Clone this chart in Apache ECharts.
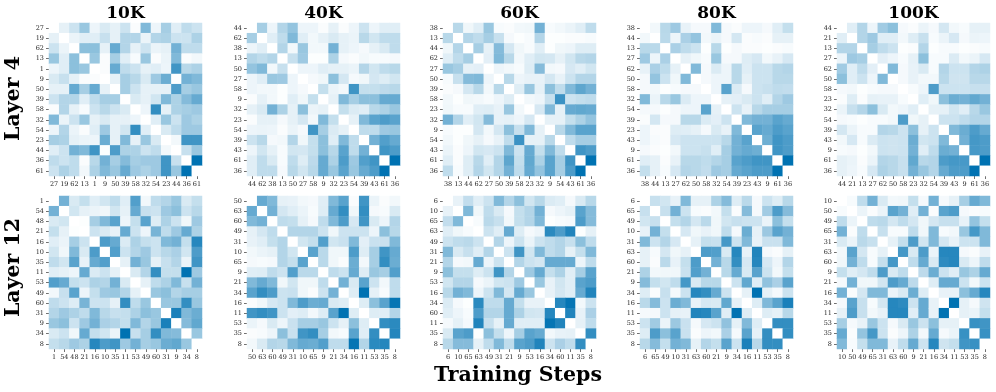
<!DOCTYPE html>
<html>
<head>
<meta charset="utf-8">
<style>
  html, body { margin: 0; padding: 0; background: #fff; }
  #chart { width: 996px; height: 392px; }
</style>
<script src="https://cdn.jsdelivr.net/npm/echarts@6/dist/echarts.min.js"></script>
</head>
<body>
<div id="chart"></div>
<script>
// steps shown above the columns, layers at the left of the rows
const steps = ['10K', '40K', '60K', '80K', '100K'];
const layers = ['Layer 4', 'Layer 12'];

// tick labels per panel
const labels_l4_10k = ['27', '19', '62', '13', '1', '9', '50', '39', '58', '32', '54', '23', '44', '36', '61'];
const labels_l4_40k = ['44', '62', '38', '13', '50', '27', '58', '9', '32', '23', '54', '39', '43', '61', '36'];
const labels_l4_60k = ['38', '13', '44', '62', '27', '50', '39', '58', '23', '32', '9', '54', '43', '61', '36'];
const labels_l4_80k = ['38', '44', '13', '27', '62', '50', '58', '32', '54', '39', '23', '43', '9', '61', '36'];
const labels_l4_100k = ['44', '21', '13', '27', '62', '50', '58', '23', '32', '54', '39', '43', '9', '61', '36'];
const labels_l12_10k = ['1', '54', '48', '21', '16', '10', '35', '11', '53', '49', '60', '31', '9', '34', '8'];
const labels_l12_40k = ['50', '63', '60', '49', '31', '10', '65', '9', '21', '34', '16', '11', '53', '35', '8'];
const labels_l12_60k = ['6', '10', '65', '63', '49', '31', '21', '9', '53', '16', '34', '60', '11', '35', '8'];
const labels_l12_80k = ['6', '65', '49', '10', '31', '63', '60', '21', '9', '34', '16', '11', '53', '35', '8'];
const labels_l12_100k = ['10', '50', '49', '65', '31', '63', '60', '9', '21', '16', '34', '11', '53', '35', '8'];

// matrices are symmetric with an empty diagonal, so only the part right of the diagonal is listed
const values_l4_10k = [
  [1, 2, 4, 0.7, 1.5, 1, 2, 0.2, 5, 0.7, 3.5, 1.2, 2.5, 2],
  [0.8, 1.2, 1.2, 2.2, 1, 3, 3, 0.8, 3, 3.2, 2, 2, 3.2],
  [4.5, 4.5, 1, 6, 3, 1, 2, 0.8, 1, 5.5, 2.5, 2.5],
  [4, 0.2, 3.5, 1.2, 0.3, 4, 0.2, 0.8, 5, 0.2, 0.5],
  [0.2, 6, 2.5, 2, 1, 1.2, 0.7, 7.5, 2.8, 3.2],
  [1, 3.5, 2.8, 1.5, 3.8, 5.8, 0.1, 5.5, 5],
  [3.5, 2, 1, 1, 1, 7, 3.5, 4],
  [1.5, 1, 1.8, 5, 3.2, 4.8, 6],
  [0.7, 8, 1, 3.2, 3.5, 3.8],
  [1.2, 4, 2, 3.8, 3.2],
  [1.5, 2.5, 3.8, 3.8],
  [0.5, 7.5, 7.5],
  [2.2, 4],
  [10]
];
const values_l4_40k = [
  [3.5, 0.7, 3, 4.2, 0.7, 0.7, 0.2, 1, 0.2, 0.7, 2, 0.7, 1.2, 1.2],
  [1.2, 2.5, 5, 1.2, 0.5, 1, 1.5, 1, 0.8, 2.8, 1.8, 2.5, 2.5],
  [3, 0.5, 4, 0.5, 0.5, 5.5, 1, 0.7, 0.4, 1, 1.5, 2.5],
  [2.2, 3.8, 0.1, 0.1, 3.2, 0.4, 0.2, 0.5, 0.3, 0.3, 0.4],
  [0.7, 0.7, 1.2, 1, 1, 0.8, 3, 1.8, 2.5, 2.8],
  [0.4, 0.6, 4.5, 1.7, 0.4, 0.6, 1.7, 1.3, 1.8],
  [2.3, 0.8, 0.5, 7.5, 2.3, 2.3, 2.6, 2.8],
  [1, 5, 3.5, 4.5, 4.5, 6, 6],
  [2.3, 1.4, 1.2, 2.8, 3.2, 4],
  [1, 5, 6.5, 7, 6.5],
  [2.5, 2.5, 3.8, 4],
  [5.5, 6.8, 6],
  [7.5, 7],
  [10]
];
const values_l4_60k = [
  [2.8, 0.6, 1.2, 4, 0.3, 0.2, 0.5, 0.6, 5.5, 0.3, 0.5, 0.8, 1.2, 2.5],
  [3, 2.5, 3.5, 2.2, 0.4, 0.1, 0.3, 3, 0.1, 0.1, 0.2, 0.2, 0.3],
  [3.5, 1, 4.8, 1.7, 0.6, 0.3, 1.2, 0.1, 0.6, 0.7, 1.3, 1.3],
  [1.1, 5, 2.8, 0.5, 1.2, 1.8, 1.7, 1, 1.8, 2.8, 3],
  [0.7, 0.5, 0.3, 1.3, 4.8, 0.5, 0.4, 1.6, 1.2, 1.8],
  [2.8, 0.7, 0.9, 0.9, 1.7, 0.9, 2, 3, 3],
  [1.3, 4, 1, 4.5, 2.5, 5, 6.3, 5.5],
  [0.5, 0.7, 2.2, 7.7, 2, 2.3, 2.5],
  [1.6, 5, 1, 6, 6.2, 6],
  [1, 1, 2.3, 3.2, 4.2],
  [2.8, 5, 6.5, 6.5],
  [2.5, 3.5, 3.5],
  [7.5, 7],
  [10]
];
const values_l4_80k = [
  [0.5, 2.8, 3.8, 0.9, 0.4, 0.4, 5, 0.4, 0.2, 0.7, 0.7, 0.4, 1.2, 2.3],
  [2.7, 0.7, 3.3, 4.2, 0.5, 0.8, 0.4, 1.7, 0.2, 0.3, 0.2, 1, 1],
  [3.3, 2.5, 2, 0.1, 2.8, 0.1, 0.4, 0.2, 0.2, 0.1, 0.2, 0.3],
  [1, 0.6, 0.3, 4, 0.4, 0.4, 1.3, 1.6, 0.5, 0.9, 1.6],
  [5, 0.4, 1.4, 0.7, 2.8, 1.2, 2, 2, 2.8, 3],
  [0.4, 0.7, 0.7, 2.8, 1, 2, 2, 2.8, 2.8],
  [0.7, 6.5, 1.4, 0.4, 2, 2.2, 2.5, 2.4],
  [1, 1.1, 1.5, 2, 1.2, 3, 3.8],
  [2, 0.9, 2.8, 3.5, 3.5, 3.5],
  [5, 5.5, 5.5, 6.5, 6],
  [6.5, 6, 7, 6.5],
  [5.7, 7.5, 7],
  [7.5, 7],
  [10]
];
const values_l4_100k = [
  [1.2, 3, 0.7, 3.7, 4.5, 0.4, 0.2, 0.8, 0.4, 1.7, 0.5, 0.3, 1, 1],
  [3, 3.8, 1.2, 1.2, 0.5, 1.3, 2.2, 0.3, 0.8, 1.6, 0.4, 0.8, 0.7],
  [3.5, 2.5, 2, 0.1, 0.2, 3, 0.1, 0.3, 0.3, 0.1, 0.2, 0.3],
  [1.1, 0.7, 0.3, 1, 4.5, 0.3, 0.3, 1.4, 0.5, 0.8, 1.6],
  [5, 0.4, 0.9, 1.5, 0.3, 3, 2, 2, 3, 3.2],
  [0.4, 0.9, 0.5, 0.5, 2.8, 1.9, 1.9, 2.8, 2.8],
  [0.3, 0.7, 7, 2, 2, 2, 2.2, 2.2],
  [1.2, 0.6, 4.5, 5.8, 5.5, 6.2, 5.5],
  [1, 1, 1.8, 1.2, 2.8, 4],
  [2, 2, 2.5, 3, 3],
  [5, 5.8, 7, 6],
  [5.5, 7.3, 7],
  [7.2, 7],
  [10]
];
const values_l12_10k = [
  [5.5, 1.5, 2.3, 1.2, 1.8, 2.5, 1.2, 6.8, 0.5, 2.5, 3, 4, 1.5, 2.3],
  [1.8, 1, 0.8, 0.6, 1.8, 1, 6, 2.2, 2, 3.8, 4.5, 2, 2.8],
  [0.1, 3.5, 5, 6.5, 0.7, 2.3, 6.5, 1.3, 3.2, 2, 0.6, 3.8],
  [2, 1.5, 0.9, 6, 2, 0.7, 5.3, 2.5, 3.8, 6, 3.2],
  [7, 6, 1.4, 3.2, 2.3, 2, 5, 5.5, 2.3, 8.5],
  [6.8, 2, 3, 3.8, 2, 2.8, 3.3, 1.8, 7],
  [1, 5.5, 4, 1, 2.2, 3, 0.8, 7.5],
  [1.5, 3, 8, 2.3, 2.3, 10, 3.8],
  [1, 2.5, 3.2, 5, 2.2, 5.5],
  [4, 4.5, 3, 3.5, 3.5],
  [4, 4, 8, 4],
  [9, 5, 5.8],
  [4.8, 6.2],
  [4]
];
const values_l12_40k = [
  [6, 5, 1, 0.9, 0.5, 0.4, 1.2, 5, 6.5, 0.2, 7.5, 0.8, 0.2, 0.5],
  [5.5, 1.7, 1.2, 0.8, 0.3, 1.3, 6, 8, 0.6, 8, 0.4, 0.3, 1.5],
  [2.5, 2.3, 1, 0.4, 2.5, 5, 7, 1.6, 7.5, 1.5, 0.7, 3],
  [3, 3, 3, 2, 0.6, 2, 2, 2, 0.7, 4.5, 2.8],
  [1.8, 2.3, 6.8, 1.8, 2.1, 5, 1.1, 2.1, 2.1, 5],
  [6.5, 2.7, 0.6, 0.6, 7, 1.3, 3.5, 7.5, 6],
  [2.7, 0.6, 0.2, 5.8, 0.5, 3.5, 8, 5.8],
  [2.5, 2, 6, 1.3, 4, 3.5, 6.8],
  [5.5, 1.5, 6.5, 2, 0.5, 2.5],
  [1.3, 10, 1, 0.3, 2.5],
  [1.3, 4.5, 6.5, 9.8],
  [1.3, 1.2, 3],
  [8, 8.3],
  [8.6]
];
const values_l12_60k = [
  [0.9, 2.4, 1.2, 2, 5, 3, 4.5, 1.8, 2.8, 1.4, 1.2, 0.4, 1.5, 2.8],
  [5, 0.6, 2.5, 1.5, 0.4, 2.3, 3, 5.5, 0.4, 0.7, 1, 6.5, 4.8],
  [0.3, 2.7, 2.2, 0.5, 2.3, 3, 5, 0.1, 0.3, 0.4, 7, 4.8],
  [2, 1.2, 6, 1.3, 0.4, 0.7, 8.3, 7, 8.7, 0.1, 1],
  [3, 0.7, 2, 0.8, 2, 2.5, 3, 2.2, 4.5, 2.5],
  [2, 7.5, 1.8, 5, 2.5, 3, 1, 2.3, 5],
  [3, 2, 1.7, 6, 6, 6, 0.7, 2.5],
  [3.8, 6, 2.3, 3.2, 1.2, 3.5, 6.5],
  [4, 0.9, 1.8, 1.2, 6.5, 7],
  [0.9, 1.7, 1.2, 6, 8.7],
  [8.5, 9.8, 0.5, 2],
  [8.7, 0.9, 3.3],
  [1, 2.5],
  [8]
];
const values_l12_80k = [
  [2.2, 1.8, 0.9, 5, 1, 1, 3.2, 4.8, 1.3, 2.7, 0.4, 2, 1.3, 2.8],
  [2.2, 5.5, 2, 0.3, 0.2, 0.5, 2.3, 0.2, 4.8, 0.4, 3.7, 7, 4.8],
  [2.3, 3, 1.7, 2.7, 0.6, 1.8, 2.2, 2, 2, 0.8, 4.5, 2.3],
  [1.6, 0.6, 0.9, 0.6, 2.5, 0.4, 5.8, 1, 3.9, 6.5, 5.5],
  [1, 2.3, 2.1, 7.3, 2, 5, 0.9, 2.1, 2.1, 5],
  [7, 6.8, 1.5, 8.5, 0.9, 8.7, 0.4, 0.2, 1],
  [5.5, 2.8, 8, 1.6, 8.5, 1.6, 0.7, 3],
  [2.8, 6, 1.5, 6.5, 2, 0.5, 2.3],
  [2, 6.2, 1.2, 4.3, 3.3, 6.5],
  [1, 10, 1, 0.4, 2],
  [1.3, 5, 6.5, 9],
  [1.3, 1, 2.8],
  [8, 8],
  [8]
];
const values_l12_100k = [
  [0.3, 2.5, 5.5, 1.5, 0.5, 0.6, 2.3, 0.4, 5.5, 0.4, 1, 3.5, 6, 5],
  [0.8, 0.2, 0.8, 6.5, 5.5, 1.2, 5.5, 0.2, 6.5, 7, 0.4, 0.2, 0.3],
  [2.5, 2.7, 1.7, 2.5, 1.7, 0.6, 1.7, 2.2, 2.2, 0.9, 4.2, 2.3],
  [2.2, 0.3, 0.3, 2.5, 0.6, 5, 0.3, 0.5, 4, 7.3, 5],
  [1, 2.3, 7, 1.8, 5, 1.7, 0.9, 2, 2, 5],
  [7.3, 1.5, 7, 0.8, 8.5, 8.5, 0.4, 0.2, 0.9],
  [2.5, 6, 1.5, 8.2, 8.5, 1.5, 0.7, 2.5],
  [2.6, 5.8, 2, 1.2, 4, 3.2, 6],
  [1.3, 6, 6, 2, 0.5, 2],
  [0.9, 0.9, 4.5, 6, 8.5],
  [10, 1, 0.4, 1.9],
  [1, 0.8, 2.3],
  [7.8, 7.5],
  [7.8]
];

const panels = [
  [labels_l4_10k, values_l4_10k], [labels_l4_40k, values_l4_40k], [labels_l4_60k, values_l4_60k],
  [labels_l4_80k, values_l4_80k], [labels_l4_100k, values_l4_100k],
  [labels_l12_10k, values_l12_10k], [labels_l12_40k, values_l12_40k], [labels_l12_60k, values_l12_60k],
  [labels_l12_80k, values_l12_80k], [labels_l12_100k, values_l12_100k]
];

const serif = '"DejaVu Serif", serif';
const panelLeft = [49, 247, 443, 640, 837];
const panelTop = [23, 196];
const panelSize = 153;

// [x, y, value] list for one panel, mirrored over the diagonal
function cells(rows) {
  const out = [];
  const n = rows.length + 1;
  for (let i = 0; i < n; i++) {
    out.push([i, i, 0]);
    for (let k = i + 1; k < n; k++) {
      const v = rows[i][k - i - 1];
      out.push([k, i, v]);
      out.push([i, k, v]);
    }
  }
  return out;
}

const grid = [], xAxis = [], yAxis = [], series = [];
panels.forEach(function (p, idx) {
  const col = idx % 5, row = Math.floor(idx / 5);
  grid.push({ left: panelLeft[col], top: panelTop[row], width: panelSize, height: panelSize });
  const tick = { show: true, length: 3, alignWithLabel: true, lineStyle: { color: '#333', width: 0.7 } };
  xAxis.push({
    type: 'category', gridIndex: idx, data: p[0], position: 'bottom',
    axisLine: { show: false }, axisTick: tick, splitLine: { show: false },
    axisLabel: { interval: 0, fontSize: 6.5, fontFamily: serif, color: '#262626', margin: 5 }
  });
  yAxis.push({
    type: 'category', gridIndex: idx, data: p[0], inverse: true,
    axisLine: { show: false }, axisTick: tick, splitLine: { show: false },
    axisLabel: { interval: 0, fontSize: 6.5, fontFamily: serif, color: '#262626', margin: 5 }
  });
  series.push({
    type: 'heatmap', xAxisIndex: idx, yAxisIndex: idx, data: cells(p[1]),
    emphasis: { disabled: true }, silent: true, animation: false
  });
});

const title = steps.map(function (s, i) {
  return {
    text: s, left: panelLeft[i] + panelSize / 2, top: 5, textAlign: 'center', padding: 0,
    textStyle: { fontFamily: serif, fontWeight: 'bold', fontSize: 17, color: '#000' }
  };
});
title.push({
  text: 'Training Steps', left: 518, top: 365, textAlign: 'center', padding: 0,
  textStyle: { fontFamily: serif, fontWeight: 'bold', fontSize: 20.5, color: '#000' }
});

const chart = echarts.init(document.getElementById('chart'), null, { renderer: 'canvas' });
chart.setOption({
  backgroundColor: '#fff',
  animation: false,
  title: title,
  grid: grid,
  xAxis: xAxis,
  yAxis: yAxis,
  visualMap: {
    show: false, type: 'continuous', min: 0, max: 10,
    inRange: { color: ['#ffffff', '#0072b2'] }
  },
  graphic: layers.map(function (t, i) {
    return {
      type: 'text', rotation: Math.PI / 2, x: 14, y: panelTop[i] + panelSize / 2 - (i ? 5 : 1),
      style: {
        text: t, fontFamily: serif, fontWeight: 'bold', fontSize: 20.5, fill: '#000',
        align: 'center', verticalAlign: 'middle'
      }
    };
  }),
  series: series
});
</script>
</body>
</html>
